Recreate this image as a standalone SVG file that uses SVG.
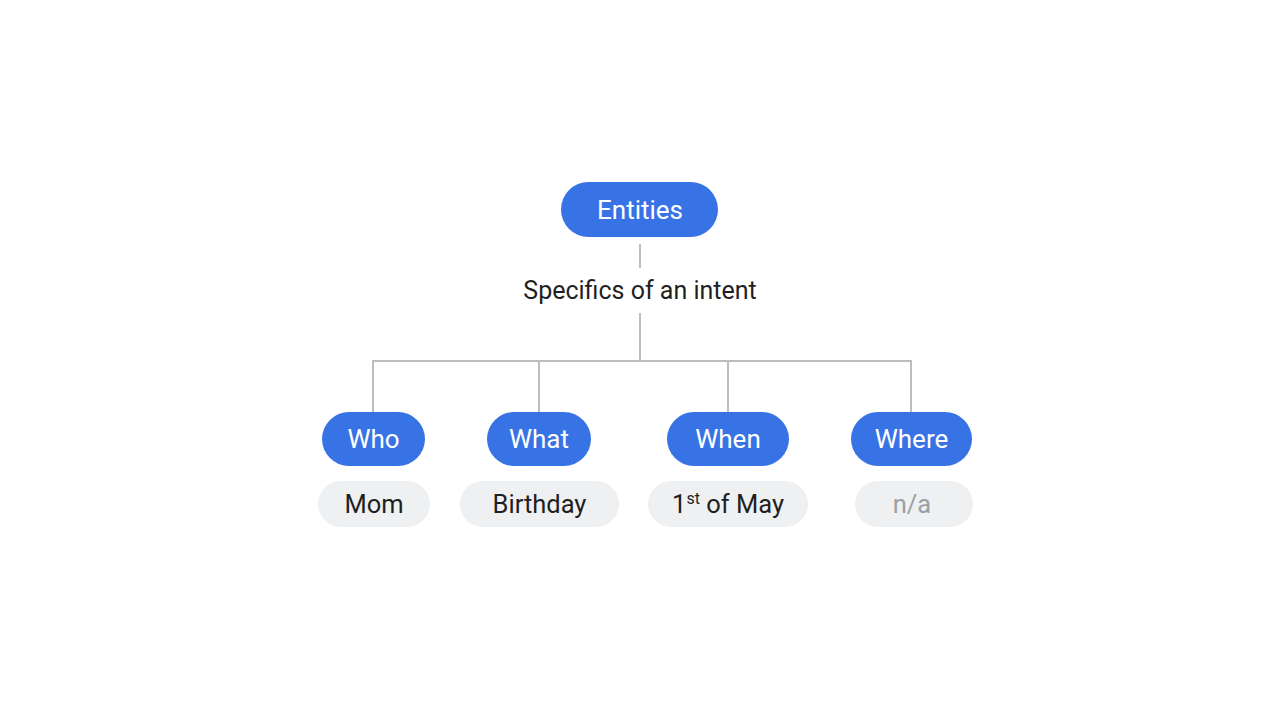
<svg xmlns="http://www.w3.org/2000/svg" width="1280" height="720" viewBox="0 0 1280 720">
<style>
.blue{fill:#3873e6}
.gray{fill:#eef0f2}
.bt{fill:#ffffff;font-family:Roboto,"Liberation Sans",sans-serif;font-size:26px;text-anchor:middle}
.gt{fill:#1f1f1f;font-family:Roboto,"Liberation Sans",sans-serif;font-size:25.5px;text-anchor:middle}
.sub{font-size:25px}
.na{fill:#9aa0a6}
.line{stroke:#bdbdbd;stroke-width:2;fill:none}
</style>
<rect width="1280" height="720" fill="#ffffff"/>
<g id="connectors">
<line class="line" x1="640" y1="244" x2="640" y2="268"/>
<path class="line" d="M640 313V361M373 412V361H911V412M539 361V412M728 361V412"/>
</g>
<g id="entities">
<rect class="blue" x="561" y="182" width="157" height="55" rx="27.5"/>
<text class="bt" x="640" y="218.5">Entities</text>
</g>
<g id="subtitle">
<text class="gt sub" x="640" y="299">Specifics of an intent</text>
</g>
<g id="who">
<rect class="blue" x="322" y="412" width="103" height="54" rx="27"/>
<text class="bt" x="373.5" y="448">Who</text>
</g>
<g id="what">
<rect class="blue" x="487" y="412" width="104" height="54" rx="27"/>
<text class="bt" x="539" y="448">What</text>
</g>
<g id="when">
<rect class="blue" x="667" y="412" width="122" height="54" rx="27"/>
<text class="bt" x="728" y="448">When</text>
</g>
<g id="where">
<rect class="blue" x="851" y="412" width="121" height="54" rx="27"/>
<text class="bt" x="911.5" y="448">Where</text>
</g>
<g id="mom">
<rect class="gray" x="318" y="481" width="112" height="46" rx="23"/>
<text class="gt" x="374" y="513">Mom</text>
</g>
<g id="birthday">
<rect class="gray" x="460" y="481" width="159" height="46" rx="23"/>
<text class="gt" x="539.5" y="513">Birthday</text>
</g>
<g id="date">
<rect class="gray" x="648" y="481" width="160" height="46" rx="23"/>
<text class="gt" x="728" y="513">1<tspan font-size="16" dy="-9">st</tspan><tspan dy="9"> of May</tspan></text>
</g>
<g id="na">
<rect class="gray" x="855" y="481" width="118" height="46" rx="23"/>
<text class="gt na" x="912" y="513">n/a</text>
</g>
</svg>
